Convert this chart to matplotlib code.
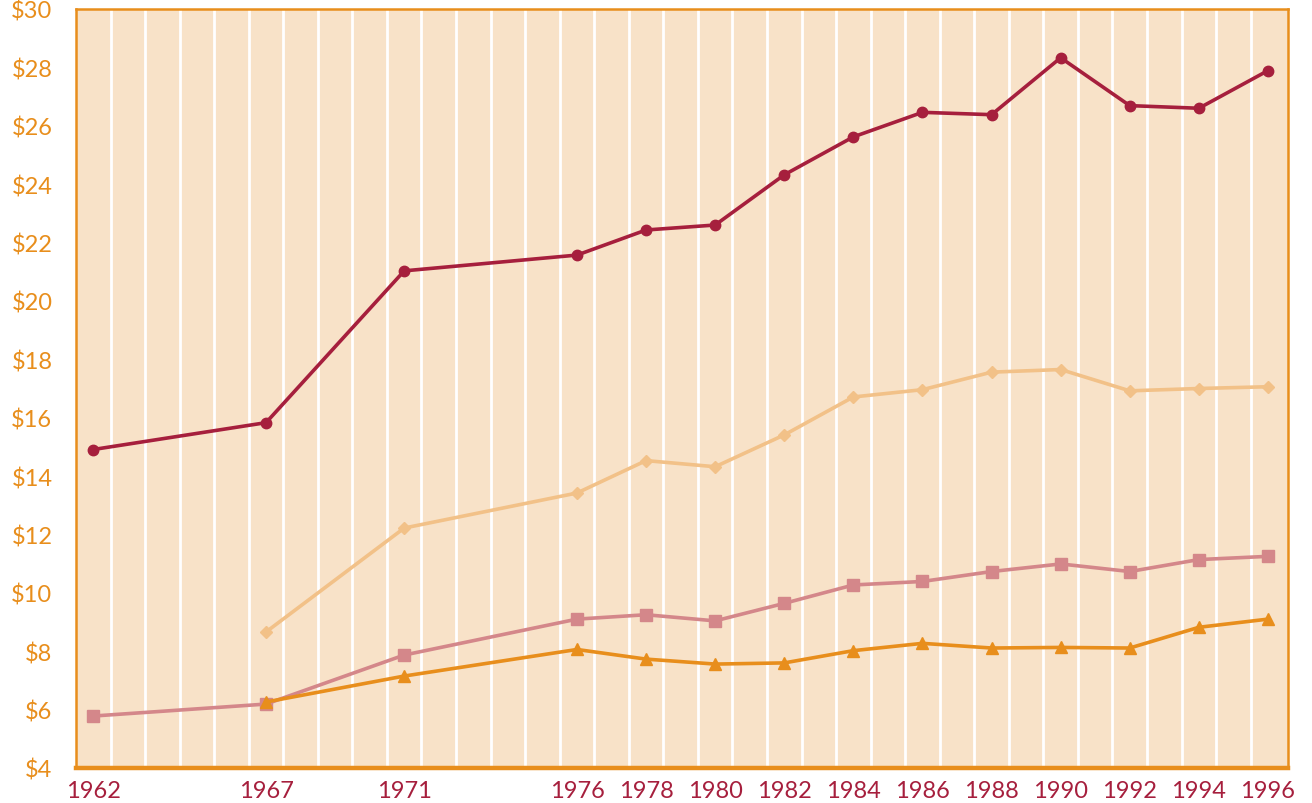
import matplotlib
matplotlib.use("Agg")
import matplotlib.pyplot as plt
from matplotlib.ticker import FixedLocator, FuncFormatter

years_all = [1962, 1967, 1971, 1976, 1978, 1980, 1982, 1984, 1986, 1988, 1990, 1992, 1994, 1996]
years_late = years_all[1:]

series_red = [14.91, 15.83, 21.03, 21.57, 22.43, 22.60, 24.32, 25.62, 26.46, 26.38, 28.33, 26.69, 26.60, 27.89]
series_light = [8.66, 12.22, 13.42, 14.53, 14.32, 15.41, 16.71, 16.96, 17.56, 17.65, 16.92, 17.00, 17.06]
series_pink = [5.78, 6.19, 7.87, 9.10, 9.25, 9.04, 9.64, 10.27, 10.39, 10.73, 10.99, 10.73, 11.14, 11.25]
series_orange = [6.26, 7.15, 8.06, 7.73, 7.56, 7.60, 8.02, 8.27, 8.11, 8.13, 8.11, 8.82, 9.10]

y_ticks = list(range(4, 31, 2))

C_RED = "#A61F3D"
C_LIGHT = "#F2C188"
C_PINK = "#D4878A"
C_ORANGE = "#E88E1C"
C_BG = "#F8E2C8"

plt.rcParams['font.family'] = ['Lato', 'DejaVu Sans']

fig = plt.figure(figsize=(13.12, 8.04), dpi=100)
ax = fig.add_axes([76/1312, 1 - 769/804, (1288 - 76)/1312, (769 - 10)/804])
ax.set_facecolor(C_BG)

ax.set_xlim(1961.5, 1996.58)
ax.set_ylim(4, 30)

# vertical white grid lines between years
for g in range(1962, 1996):
    ax.axvline(g + 0.5, color="white", lw=2.0, zorder=1)

ax.plot(years_all, series_pink, color=C_PINK, lw=2.6, marker="s", ms=9, zorder=3)
ax.plot(years_late, series_light, color=C_LIGHT, lw=2.6, marker="D", ms=6, zorder=3)
ax.plot(years_late, series_orange, color=C_ORANGE, lw=2.6, marker="^", ms=8, zorder=4)
ax.plot(years_all, series_red, color=C_RED, lw=2.6, marker="o", ms=7.5, zorder=5)

ax.xaxis.set_major_locator(FixedLocator(years_all))
ax.yaxis.set_major_locator(FixedLocator(y_ticks))
ax.yaxis.set_major_formatter(FuncFormatter(lambda v, p: f"${int(v)}"))
ax.tick_params(axis="x", length=0, pad=9, labelsize=17, labelcolor=C_RED)
ax.tick_params(axis="y", length=0, pad=17, labelsize=17, labelcolor=C_ORANGE)

for s in ["left", "top", "right"]:
    ax.spines[s].set_color(C_ORANGE)
    ax.spines[s].set_linewidth(1.8)
ax.spines["bottom"].set_color(C_ORANGE)
ax.spines["bottom"].set_linewidth(3.2)

fig.savefig("out.png", dpi=100)
